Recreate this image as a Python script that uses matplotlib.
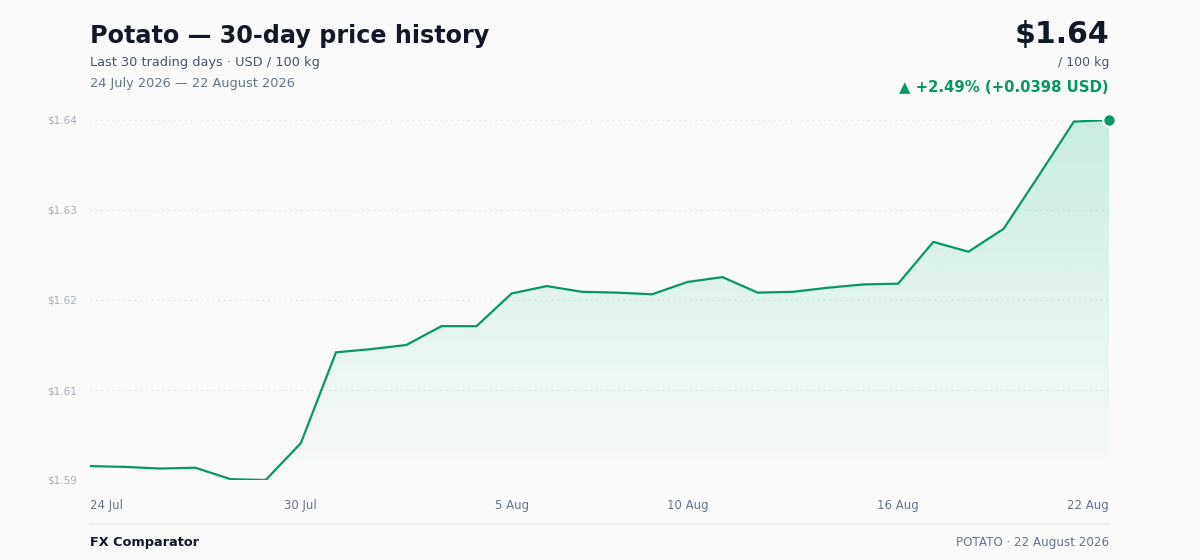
import matplotlib
matplotlib.use("Agg")
import matplotlib.pyplot as plt
import matplotlib.dates as mdates
import numpy as np
import pandas as pd

# ---- data ----
dates = pd.date_range("2026-07-24", "2026-08-22", freq="D")
prices = [1.5965, 1.5964, 1.5962, 1.5963, 1.5949, 1.5948, 1.5993, 1.6104,
          1.6108, 1.6113, 1.6136, 1.6136, 1.6176, 1.6185, 1.6178, 1.6177,
          1.6175, 1.6190, 1.6196, 1.6177, 1.6178, 1.6183, 1.6187, 1.6188,
          1.6239, 1.6227, 1.6255, 1.6320, 1.6386, 1.6388]
tick_dates = ["2026-07-24", "2026-07-30", "2026-08-05", "2026-08-10",
              "2026-08-16", "2026-08-22"]
tick_labels = ["24 Jul", "30 Jul", "5 Aug", "10 Aug", "16 Aug", "22 Aug"]

title = "Potato \u2014 30-day price history"
subtitle = "Last 30 trading days \u00b7 USD / 100 kg"
range_text = "24 July 2026 \u2014 22 August 2026"
price_text = "$1.64"
unit_text = "/ 100 kg"
change_text = "\u25b2 +2.49% (+0.0398 USD)"
brand = "FX Comparator"
footer_right = "POTATO \u00b7 22 August 2026"

GREEN = "#069668"
BG = "#fafafa"
W, H = 1200, 560

plt.rcParams["font.family"] = ["DejaVu Sans"]

fig = plt.figure(figsize=(W / 100, H / 100), dpi=100, facecolor=BG)
ax = fig.add_axes([90 / W, 80 / H, (1109 - 90) / W, 360 / H])
ax.set_facecolor(BG)

x = mdates.date2num(dates)
lo, hi = min(prices), max(prices)

# gradient fill under the line
poly = ax.fill_between(x, prices, lo, facecolor="none", edgecolor="none")
grad = np.zeros((256, 1, 4))
grad[:, 0, :3] = matplotlib.colors.to_rgb("#10b981")
grad[:, 0, 3] = np.linspace(0.21, 0.0, 256)
im = ax.imshow(grad, extent=[x[0], x[-1], lo, hi], aspect="auto",
               origin="upper", zorder=1, interpolation="bilinear")
im.set_clip_path(poly.get_paths()[0], transform=ax.transData)

ax.plot(x, prices, color=GREEN, lw=1.6, zorder=3, solid_joinstyle="miter")
ax.plot(x[-1], prices[-1], marker="o", ms=9, mfc=GREEN, mec="white",
        mew=1.5, clip_on=False, zorder=5)

ax.set_xlim(x[0], x[-1])
ax.set_ylim(lo, hi)

yt = np.linspace(lo, hi, 5)
ax.set_yticks(yt)
ax.set_yticklabels([f"${v:.2f}" for v in yt])
ax.set_xticks(mdates.date2num(pd.to_datetime(tick_dates)))
ax.set_xticklabels(tick_labels)
xl = ax.get_xticklabels()
xl[0].set_ha("left")
xl[-1].set_ha("right")

ax.tick_params(axis="y", length=0, pad=9, labelsize=7.5, labelcolor="#a3acb9")
ax.tick_params(axis="x", length=0, pad=14, labelsize=8.5, labelcolor="#64748b")
ax.yaxis.grid(True, linestyle=(0, (1, 3)), color="#e3e7ec", lw=1)
ax.set_axisbelow(True)
for s in ax.spines.values():
    s.set_visible(False)

def fy(py):
    return 1 - py / H

# header
fig.text(90 / W, fy(43), title, fontsize=17.2, fontweight="bold",
         color="#111827", va="baseline", ha="left")
fig.text(90 / W, fy(66), subtitle, fontsize=9.3, color="#475569",
         va="baseline", ha="left")
fig.text(90 / W, fy(87.5), range_text, fontsize=9.3, color="#64748b",
         va="baseline", ha="left")
fig.text(1109 / W, fy(43.5), price_text, fontsize=21.6, fontweight="bold",
         color="#111827", va="baseline", ha="right")
fig.text(1109 / W, fy(66), unit_text, fontsize=9, color="#475569",
         va="baseline", ha="right")
fig.text(1109 / W, fy(92), change_text, fontsize=10.75, fontweight="bold",
         color=GREEN, va="baseline", ha="right")

# footer
fig.add_artist(plt.Line2D([90 / W, 1109 / W], [fy(523.5), fy(523.5)],
                          color="#eceef1", lw=1.5))
fig.text(90 / W, fy(546), brand, fontsize=9.25, fontweight="bold",
         color="#111827", va="baseline", ha="left")
fig.text(1109 / W, fy(546), footer_right, fontsize=8.6, color="#64748b",
         va="baseline", ha="right")

fig.savefig("out.png", dpi=100, facecolor=BG)
